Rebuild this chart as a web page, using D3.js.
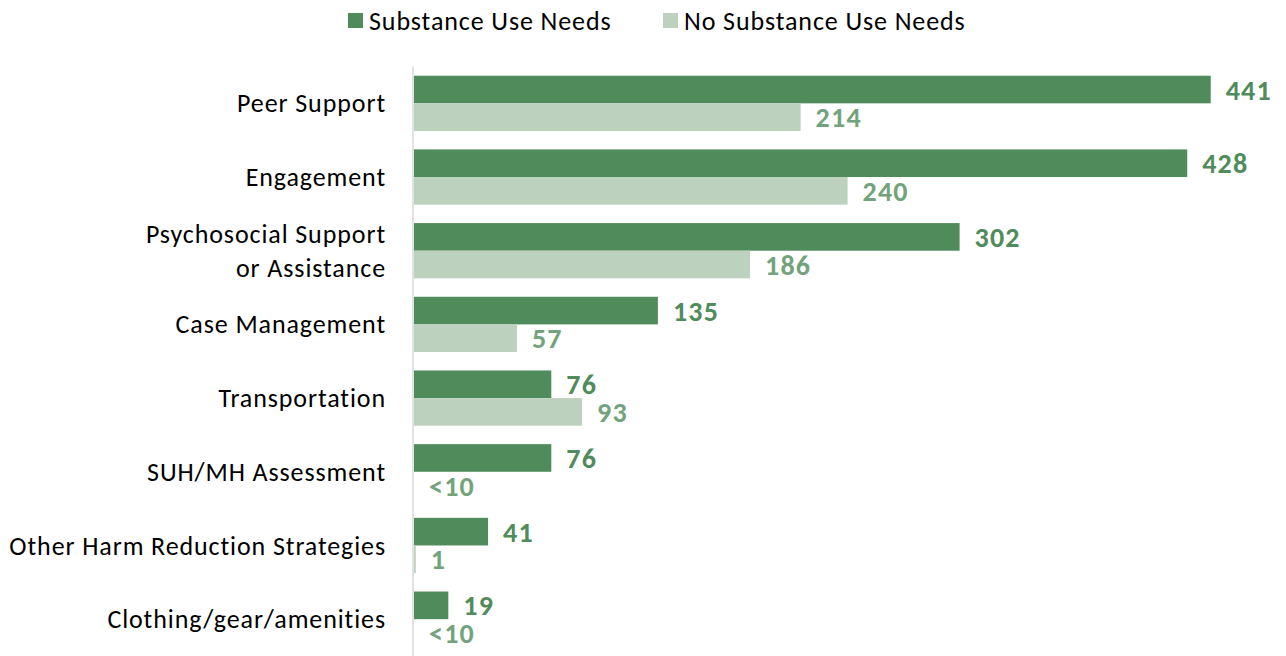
<!DOCTYPE html>
<html>
<head>
<meta charset="utf-8">
<script src="https://cdn.jsdelivr.net/npm/d3@7"></script>
<style>
  body { margin: 0; background: #fff; }
  svg { font-family: Calibri, Carlito, Lato, sans-serif; }
</style>
</head>
<body>
<svg width="1286" height="656"></svg>
<script>
// chart data
const categories = ["Peer Support", "Engagement", "Psychosocial Support\nor Assistance",
  "Case Management", "Transportation", "SUH/MH Assessment",
  "Other Harm Reduction Strategies", "Clothing/gear/amenities"];
const seriesNames = ["Substance Use Needs", "No Substance Use Needs"];
const substanceUse = [441, 428, 302, 135, 76, 76, 41, 19];
// null = suppressed small count, shown as "<10"
const noSubstanceUse = [214, 240, 186, 57, 93, null, 1, null];

const colors = ["#508b5b", "#bcd2be"];
const labelColors = ["#508b5b", "#72a37c"];

const svg = d3.select("svg"),
      width = +svg.attr("width"),
      height = +svg.attr("height");

const x0 = 414;
const x = d3.scaleLinear().domain([0, 500]).range([x0, 1317.3]);

const y = d3.scaleBand()
  .domain(categories)
  .range([66.5, 656])
  .paddingInner(0.25)
  .paddingOuter(0.125);

const ySub = d3.scaleBand()
  .domain([0, 1])
  .range([0, y.bandwidth()]);

const rows = categories.map((c, i) => ({
  cat: c,
  vals: [substanceUse[i], noSubstanceUse[i]]
}));

// axis line
svg.append("line")
  .attr("x1", 413).attr("x2", 413)
  .attr("y1", 66.5).attr("y2", 656)
  .attr("stroke", "#d9d9d9")
  .attr("stroke-width", 1.5);

const groups = svg.selectAll("g.row")
  .data(rows)
  .join("g")
  .attr("class", "row")
  .attr("transform", d => `translate(0,${y(d.cat)})`);

groups.selectAll("rect")
  .data(d => d.vals.map((v, k) => ({v, k})))
  .join("rect")
  .attr("x", x0)
  .attr("y", d => ySub(d.k))
  .attr("width", d => d.v == null ? 0 : x(d.v) - x0)
  .attr("height", ySub.bandwidth())
  .attr("fill", d => colors[d.k]);

groups.selectAll("text.val")
  .data(d => d.vals.map((v, k) => ({v, k})))
  .join("text")
  .attr("class", "val")
  .attr("x", d => (d.v == null ? x0 : x(d.v)) + 15)
  .attr("y", d => ySub(d.k) + ySub.bandwidth() / 2)
  .attr("dy", "0.36em")
  .attr("font-size", "28px")
  .attr("font-weight", "bold")
  .attr("letter-spacing", "1.2px")
  .attr("fill", d => labelColors[d.k])
  .text(d => d.v == null ? "<10" : d.v);

// category labels
groups.append("text")
  .attr("x", 386)
  .attr("text-anchor", "end")
  .attr("font-size", "26px")
  .attr("letter-spacing", "0.9px")
  .attr("fill", "#000")
  .each(function(d) {
    const lines = d.cat.split("\n");
    const lh = 34;
    const mid = y.bandwidth() / 2;
    d3.select(this).selectAll("tspan")
      .data(lines)
      .join("tspan")
      .attr("x", 386)
      .attr("y", (l, j) => mid + (j - (lines.length - 1) / 2) * lh)
      .attr("dy", "0.35em")
      .text(l => l);
  });

// legend
const legendX = [348, 663];
const legend = svg.selectAll("g.legend")
  .data(seriesNames)
  .join("g")
  .attr("class", "legend")
  .attr("transform", (d, i) => `translate(${legendX[i]},13)`);

legend.append("rect")
  .attr("width", 15).attr("height", 15)
  .attr("fill", (d, i) => colors[i]);

legend.append("text")
  .attr("x", 21)
  .attr("y", 7.5)
  .attr("dy", "0.36em")
  .attr("font-size", "26px")
  .attr("letter-spacing", "0.9px")
  .attr("fill", "#000")
  .text(d => d);
</script>
</body>
</html>
